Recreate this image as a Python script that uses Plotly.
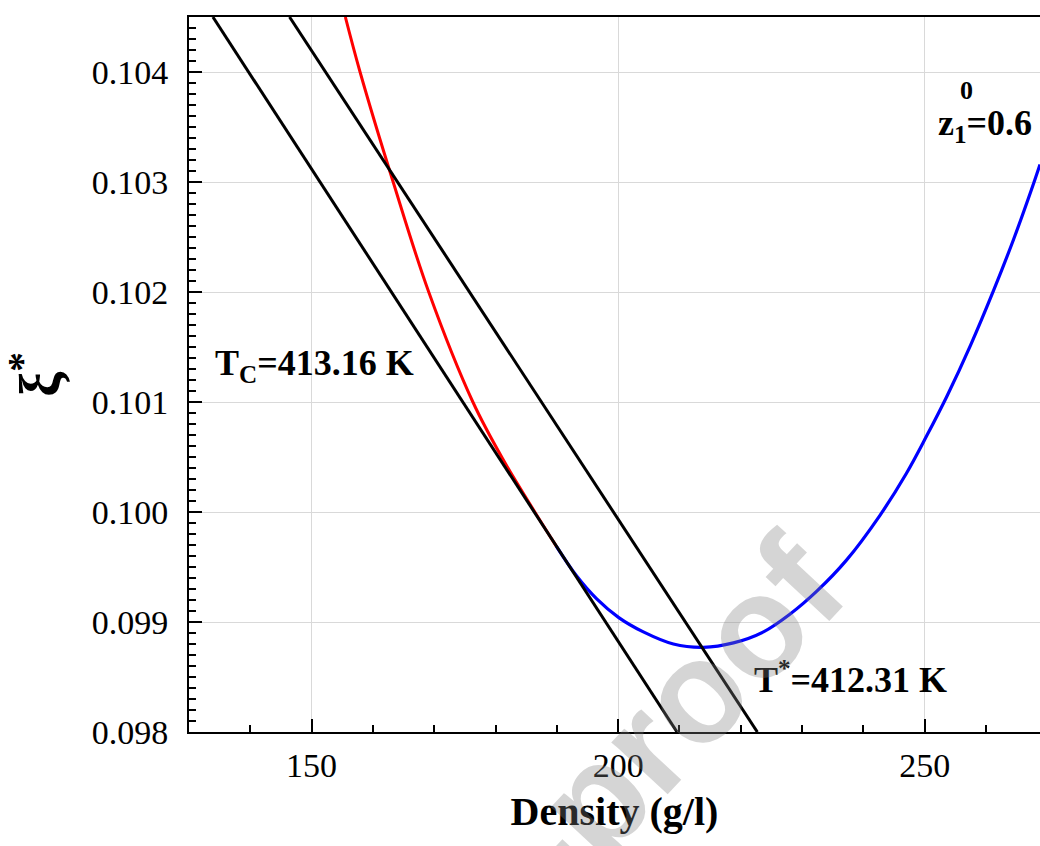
import plotly.graph_objects as go

# xi* versus density, z1^0 = 0.6
density_red = [155.5, 157.9, 163.3, 169.1, 176.3, 181.3, 186.4, 189.9]
xi_red = [0.10450, 0.10400, 0.10300, 0.10200, 0.10100, 0.10047, 0.10000, 0.09969]

density_blue = [189.9, 193.2, 196.5, 200.1, 204.1, 209.0, 213.9, 218.8, 223.7, 228.0,
                232.4, 237.2, 242.7, 247.0, 250.3, 253.6, 257.5, 261.2, 264.5, 267.4, 268.8]
xi_blue = [0.09969, 0.09942, 0.09921, 0.09904, 0.09891, 0.09880, 0.09877, 0.09881, 0.09891, 0.09907,
           0.09928, 0.09956, 0.09997, 0.10035, 0.10069, 0.10105, 0.10152, 0.10201, 0.10248, 0.10293, 0.10316]

# tangent lines at the two temperatures
density_tc = [133.9, 209.6]
xi_tc = [0.1045, 0.0980]
density_ts = [146.4, 222.7]
xi_ts = [0.1045, 0.0980]

x_range = [130, 268.8]
y_range = [0.098, 0.1045]

SERIF = "Liberation Serif, Times New Roman, Times, serif"

fig = go.Figure()
fig.add_trace(go.Scatter(x=density_red, y=xi_red, mode="lines",
                         line=dict(color="#ff0000", width=3, shape="spline", smoothing=1.0)))
fig.add_trace(go.Scatter(x=density_blue, y=xi_blue, mode="lines",
                         line=dict(color="#0000ff", width=3.2, shape="spline", smoothing=1.0)))
fig.add_trace(go.Scatter(x=density_tc, y=xi_tc, mode="lines", line=dict(color="black", width=3)))
fig.add_trace(go.Scatter(x=density_ts, y=xi_ts, mode="lines", line=dict(color="black", width=3)))

axis_common = dict(
    ticks="inside", ticklen=13, tickwidth=2, tickcolor="black",
    showline=True, linewidth=2, linecolor="black",
    showgrid=True, gridcolor="#d9d9d9", gridwidth=1,
    zeroline=False,
    tickfont=dict(family=SERIF, size=34, color="black"),
)

fig.update_xaxes(
    range=x_range, tick0=0, dtick=50, mirror=True,
    minor=dict(dtick=10, ticks="inside", ticklen=7, tickwidth=2, tickcolor="black", showgrid=False),
    ticklabelstandoff=2,
    title=dict(text="<b>Density (g/l)</b>", font=dict(family=SERIF, size=40, color="black"), standoff=14),
    **axis_common,
)
fig.update_yaxes(
    range=y_range, tick0=0.098, dtick=0.001, tickformat=".3f",
    minor=dict(dtick=0.0001, ticks="inside", ticklen=7, tickwidth=2, tickcolor="black", showgrid=False),
    ticklabelstandoff=12,
    title=dict(text="<b>ξ<sup>*</sup></b>", font=dict(family=SERIF, size=56, color="black"), standoff=16),
    **axis_common,
)

label_font = dict(family=SERIF, size=36, color="black")
fig.add_annotation(x=133.9, y=0.101336, text="<b>T<sub>C</sub>=413.16 K</b>", showarrow=False,
                   xanchor="left", yanchor="middle", font=label_font)
fig.add_annotation(x=221.8, y=0.098491, text="<b>T<sup>*</sup>=412.31 K</b>", showarrow=False,
                   xanchor="left", yanchor="middle", font=label_font)
fig.add_annotation(x=251.8, y=0.103518, text="<b>z<sub>1</sub>=0.6</b>", showarrow=False,
                   xanchor="left", yanchor="middle", font=label_font)
fig.add_annotation(x=255.5, y=0.103830, text="<b>0</b>", showarrow=False,
                   xanchor="left", yanchor="middle", font=dict(family=SERIF, size=26, color="black"))

# diagonal watermark
fig.add_annotation(xref="paper", yref="paper", x=0.250, y=-0.383, text="<b>Journal Pre-proof</b>",
                   showarrow=False, textangle=-47, xanchor="center", yanchor="middle",
                   font=dict(family="Liberation Sans, Arial, sans-serif", size=145,
                             color="rgba(128,128,128,0.33)"))

fig.update_layout(
    width=1040, height=846,
    margin=dict(l=189, r=0, t=17, b=114),
    plot_bgcolor="white", paper_bgcolor="white",
    showlegend=False,
)

fig.write_html("out.html")
